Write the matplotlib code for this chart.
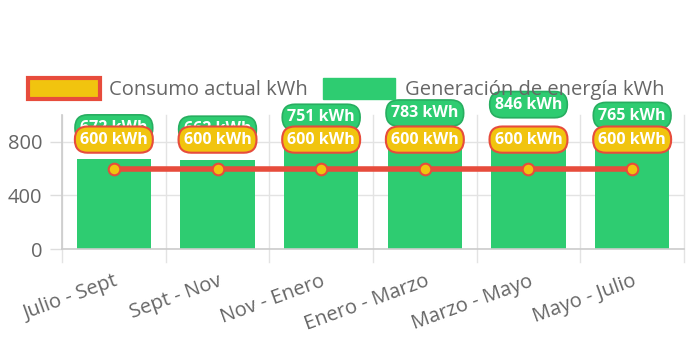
import matplotlib.pyplot as plt
from matplotlib.patches import Patch

periodos = ['Julio - Sept', 'Sept - Nov', 'Nov - Enero', 'Enero - Marzo', 'Marzo - Mayo', 'Mayo - Julio']
generacion = [672, 662, 751, 783, 846, 765]
consumo = [600, 600, 600, 600, 600, 600]

VERDE = '#2ecc71'
VERDE_OSCURO = '#27ae60'
AMARILLO = '#f1c40f'
ROJO = '#e74c3c'
GRIS = '#666666'

plt.rcParams['font.family'] = ['Open Sans', 'DejaVu Sans']

fig = plt.figure(figsize=(6.93, 3.46), dpi=100)
ax = fig.add_axes([0.0895, 0.2803, 0.8975, 0.3873])

x = list(range(len(periodos)))
ax.bar(x, generacion, width=0.72, color=VERDE, zorder=2)
ax.plot(x, consumo, color=ROJO, lw=4, zorder=3, solid_capstyle='butt')
ax.scatter(x, consumo, s=70, color=AMARILLO, edgecolor=ROJO, linewidth=1.5, zorder=4)

# value labels: green for generation, yellow for consumption on top
for xi, v in zip(x, generacion):
    ax.annotate(f'{v} kWh', (xi, v), xytext=(0, 31), textcoords='offset pixels',
                ha='center', va='center', color='white', fontsize=11.5, fontweight='bold',
                zorder=5, annotation_clip=False,
                bbox=dict(boxstyle='round,pad=0.32,rounding_size=0.8', fc=VERDE, ec=VERDE_OSCURO, lw=1.2))
for xi, v in zip(x, consumo):
    ax.annotate(f'{v} kWh', (xi, v), xytext=(0, 29), textcoords='offset pixels',
                ha='center', va='center', color='white', fontsize=11.5, fontweight='bold',
                zorder=6, annotation_clip=False,
                bbox=dict(boxstyle='round,pad=0.32,rounding_size=0.8', fc=AMARILLO, ec=ROJO, lw=1.5))

ax.set_xlim(-0.5, len(periodos) - 0.5)
ax.set_ylim(0, 1000)
ax.set_yticks([0, 400, 800])
ax.set_xticks(x)
ax.set_xticklabels(periodos, rotation=20, ha='right', rotation_mode='anchor')
ax.tick_params(axis='both', colors='#dddddd', labelcolor=GRIS, labelsize=14.5, length=9, width=1)
ax.tick_params(axis='y', pad=5)
ax.tick_params(axis='x', length=0, pad=16)

# grid lines between categories, extending below the axis
for b in [i - 0.5 for i in range(len(periodos) + 1)]:
    ax.plot([b, b], [-95, 1000], color='#e3e3e3', lw=1, zorder=1, clip_on=False)
ax.yaxis.grid(True, color='#e3e3e3', lw=1, zorder=1)
ax.set_axisbelow(True)

for s in ['top', 'right']:
    ax.spines[s].set_visible(False)
ax.spines['left'].set_color('#cccccc')
ax.spines['bottom'].set_color('#cccccc')
ax.spines['left'].set_linewidth(1.2)
ax.spines['bottom'].set_linewidth(1.2)

handles = [Patch(facecolor=AMARILLO, edgecolor=ROJO, linewidth=3),
           Patch(facecolor=VERDE, edgecolor=VERDE)]
leg = fig.legend(handles, ['Consumo actual kWh', 'Generación de energía kWh'],
                 loc='center', bbox_to_anchor=(0.499, 0.743), ncol=2, frameon=False,
                 fontsize=14.5, handlelength=3.6, handleheight=1.2, handletextpad=0.45,
                 columnspacing=0.75, borderpad=0, borderaxespad=0)
for t in leg.get_texts():
    t.set_color(GRIS)

fig.savefig('out.png', dpi=100)
